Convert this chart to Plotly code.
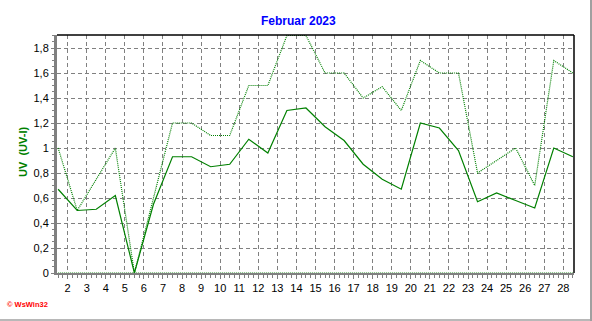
import plotly.graph_objects as go

# ---- data ----
days = list(range(1, 29))
uv_mean = [0.67, 0.50, 0.51, 0.62, 0.00, 0.55, 0.93, 0.93, 0.85, 0.87,
           1.07, 0.96, 1.30, 1.32, 1.17, 1.06, 0.87, 0.75, 0.67, 1.20,
           1.16, 0.98, 0.57, 0.64, 0.58, 0.52, 1.00, 0.93]
uv_max = [1.0, 0.5, 0.75, 1.0, 0.0, 0.6, 1.2, 1.2, 1.1, 1.1,
          1.5, 1.5, 1.9, 1.9, 1.6, 1.6, 1.4, 1.49, 1.3, 1.7,
          1.6, 1.6, 0.8, 0.9, 1.0, 0.7, 1.7, 1.6]
uv_base = [0.0] * 28
y_tickvals = [0, 0.2, 0.4, 0.6, 0.8, 1.0, 1.2, 1.4, 1.6, 1.8]
y_ticktext = ["0", "0,2", "0,4", "0,6", "0,8", "1", "1,2", "1,4", "1,6", "1,8"]
title_text = "Februar 2023"
y_title = "UV  (UV-I)"
credit = "© WsWin32"

xpos = [d + 0.5 for d in days]
GREEN = "#008000"

fig = go.Figure()
fig.add_trace(go.Scatter(x=xpos, y=uv_base, mode="lines",
                         line=dict(color=GREEN, width=1.2, dash="1px,1px"),
                         hoverinfo="skip", cliponaxis=False))
fig.add_trace(go.Scatter(x=xpos, y=uv_max, mode="lines",
                         line=dict(color=GREEN, width=1.2, dash="1px,1px")))
fig.add_trace(go.Scatter(x=xpos, y=uv_mean, mode="lines",
                         line=dict(color=GREEN, width=1.2)))

W, H = 592, 321
L, R, T, B = 57, 18, 35, 48
pw, ph = W - L - R, H - T - B

def px(xp):
    return (xp - L) / pw

def py(yp):
    return (H - B - yp) / ph

fig.update_layout(
    width=W, height=H,
    margin=dict(l=L, r=R, t=T, b=B, pad=0),
    paper_bgcolor="white", plot_bgcolor="white",
    showlegend=False,
    font=dict(family="Liberation Sans, Arial, sans-serif", size=11, color="black"),
    xaxis=dict(range=[1.44, 28.56], tickmode="linear", tick0=2, dtick=1,
               showgrid=True, gridcolor="#808080", gridwidth=1, griddash="4px,3px",
               zeroline=False, showline=True, linecolor="#808080", linewidth=2,
               ticks="outside", ticklen=4, tickcolor="#808080", tickwidth=1,
               tickfont=dict(size=11),
               minor=dict(tickmode="linear", tick0=0, dtick=0.25, ticks="outside",
                          ticklen=3, tickcolor="#808080", showgrid=False)),
    yaxis=dict(range=[0, 1.904], tickmode="array", tickvals=y_tickvals, ticktext=y_ticktext,
               showgrid=True, gridcolor="#808080", gridwidth=1, griddash="4px,3px",
               zeroline=False, showline=True, linecolor="#808080", linewidth=3,
               ticks="outside", ticklen=3, tickcolor="#808080", tickwidth=1,
               tickfont=dict(size=11),
               minor=dict(tickmode="linear", tick0=0, dtick=0.05, ticks="outside",
                          ticklen=2, tickcolor="#808080", showgrid=False)),
    shapes=[
        dict(type="line", xref="paper", yref="paper", x0=0, x1=1, y0=1, y1=1,
             line=dict(color="black", width=1.5)),
        dict(type="line", xref="paper", yref="paper", x0=1, x1=1, y0=0, y1=1,
             line=dict(color="black", width=1.5)),
        dict(type="line", xref="paper", yref="paper", x0=px(0), x1=px(592),
             y0=py(320), y1=py(320), line=dict(color="#a0a0a0", width=1.5)),
        dict(type="line", xref="paper", yref="paper", x0=px(591), x1=px(591),
             y0=py(0), y1=py(321), line=dict(color="#a0a0a0", width=2)),
    ],
    annotations=[
        dict(text="<b>" + title_text + "</b>", xref="paper", yref="paper",
             x=px(298), y=py(21), xanchor="center", yanchor="middle", showarrow=False,
             font=dict(size=12, color="#0000ff")),
        dict(text="<b>" + y_title + "</b>", xref="paper", yref="paper",
             x=px(23), y=py(152), xanchor="center", yanchor="middle", showarrow=False,
             textangle=-90, font=dict(size=11, color=GREEN)),
        dict(text="<b>" + credit + "</b>", xref="paper", yref="paper",
             x=px(5), y=py(304), xanchor="left", yanchor="middle", showarrow=False,
             font=dict(size=7.5, color="#ff0000")),
    ],
)

fig.write_html("out.html")
